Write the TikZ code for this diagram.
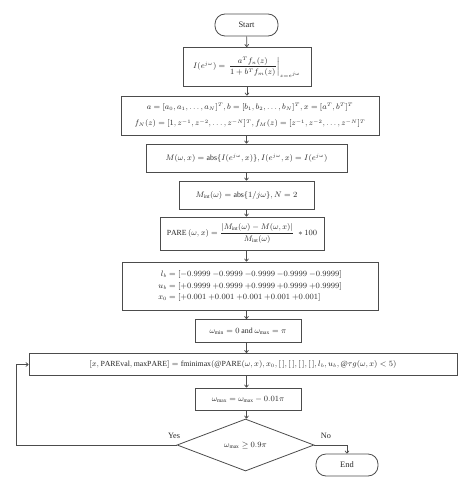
\documentclass[tikz,border=0pt]{standalone}
\usepackage{amsmath}
\usepackage{fontspec}
\setmainfont{Liberation Serif}
\usetikzlibrary{shapes.geometric,arrows.meta}
\begin{document}
\begin{tikzpicture}[x=1pt,y=-1pt,
  every node/.style={font=\fontsize{7.8}{11.5}\selectfont, text=black!85},
  box/.style={draw=black!70, line width=0.8pt, rectangle, inner sep=0pt, align=center},
  term/.style={draw=black!70, line width=0.8pt, rectangle, rounded corners=10pt, inner sep=0pt},
  dec/.style={draw=black!70, line width=0.8pt, diamond, aspect=2.65, inner sep=0pt, minimum width=137pt, minimum height=52pt},
  arr/.style={draw=black!70, line width=0.7pt, -{To[length=3pt,width=4.5pt]}},
  lab/.style={font=\fontsize{8.2}{10}\selectfont}]
\useasboundingbox (0,0) rectangle (474,492);
\node[term, minimum width=63pt, minimum height=22pt, font=\fontsize{8.4}{10}\selectfont] (start) at (246.5,25) {Start};
\node[box, minimum width=128pt, minimum height=39pt] (b1) at (247,67)
  {$I(e^{j\omega}) = \left.\dfrac{a^T f_n(z)}{1+b^T f_m(z)}\right|_{z=e^{j\omega}}$};
\node[box, minimum width=258pt, minimum height=39pt] (b2) at (250,115.5)
  {$a=[a_0,a_1,\ldots,a_N]^T, b=[b_1,b_2,\ldots,b_N]^T, x=[a^T,b^T]^T$\\[5pt]
   $f_N(z)=[1,z^{-1},z^{-2},\ldots,z^{-N}]^T, f_M(z)=[z^{-1},z^{-2},\ldots,z^{-N}]^T$};
\node[box, minimum width=201pt, minimum height=28pt] (b3) at (246.5,158)
  {$M(\omega,x)=\mathrm{abs}\{I(e^{j\omega},x)\}, I(e^{j\omega},x)=I(e^{j\omega})$};
\node[box, minimum width=135pt, minimum height=28pt] (b4) at (246.5,195)
  {$M_{\mathrm{int}}(\omega)=\mathrm{abs}\{1/j\omega\}, N=2$};
\node[box, minimum width=164pt, minimum height=33pt] (b5) at (242,233.5)
  {$\mathrm{PARE}\,(\omega,x)=\dfrac{|M_{\mathrm{int}}(\omega)-M(\omega,x)|}{M_{\mathrm{int}}(\omega)}\;*100$};
\node[box, minimum width=256pt, minimum height=48pt] (b6) at (250,286)
  {\begin{tabular}{@{}r@{\;}l@{}}
   $l_b$ & $=[{-0.9999}\ {-0.9999}\ {-0.9999}\ {-0.9999}\ {-0.9999}]$\\
   $u_b$ & $=[{+0.9999}\ {+0.9999}\ {+0.9999}\ {+0.9999}\ {+0.9999}]$\\
   $x_0$ & $=[{+0.001}\ {+0.001}\ {+0.001}\ {+0.001}\ {+0.001}]$
   \end{tabular}};
\node[box, minimum width=106pt, minimum height=23pt] (b7) at (248,331)
  {$\omega_{\mathrm{min}}=0$ and $\omega_{\mathrm{max}}=\pi$};
\node[box, minimum width=428pt, minimum height=22pt] (b8) at (243,364.5)
  {$[x, \mathrm{PAREval}, \mathrm{maxPARE}] = \mathrm{fminimax}(@\mathrm{PARE}(\omega,x), x_0, [\,], [\,], [\,], [\,], l_b, u_b, @\tau g(\omega,x)<5)$};
\node[box, minimum width=106pt, minimum height=22pt] (b9) at (248,399)
  {$\omega_{\mathrm{max}}=\omega_{\mathrm{max}}-0.01\pi$};
\node[dec] (dia) at (245.5,445) {$\omega_{\mathrm{max}}\geq 0.9\pi$};
\node[term, minimum width=62pt, minimum height=22pt, font=\fontsize{8.4}{10}\selectfont] (end) at (347,465) {End};
\coordinate (loop) at (16,445);
\draw[arr] (start) -- (b1);
\draw[arr] (b1) -- (b1 |- b2.north);
\draw[arr] (b2.south -| b3) -- (b3);
\draw[arr] (b3) -- (b3 |- b4.north);
\draw[arr] (b4) -- (b4 |- b5.north);
\draw[arr] (b5.south -| b4) -- (b4 |- b6.north);
\draw[arr] (b6.south -| b4) -- (b4 |- b7.north);
\draw[arr] (b7.south -| b4) -- (b4 |- b8.north);
\draw[arr] (b8.south -| b4) -- (b4 |- b9.north);
\draw[arr] (b9.south -| b4) -- (b4 |- dia.north);
\draw[arr] (dia.west) -- (loop) |- (b8.west);
\draw[arr] (dia.east) -| (end.north);
\node[lab, anchor=south] (yes) at (174,442) {Yes};
\node[lab, anchor=south] (no) at (326,442) {No};
\end{tikzpicture}
\end{document}
